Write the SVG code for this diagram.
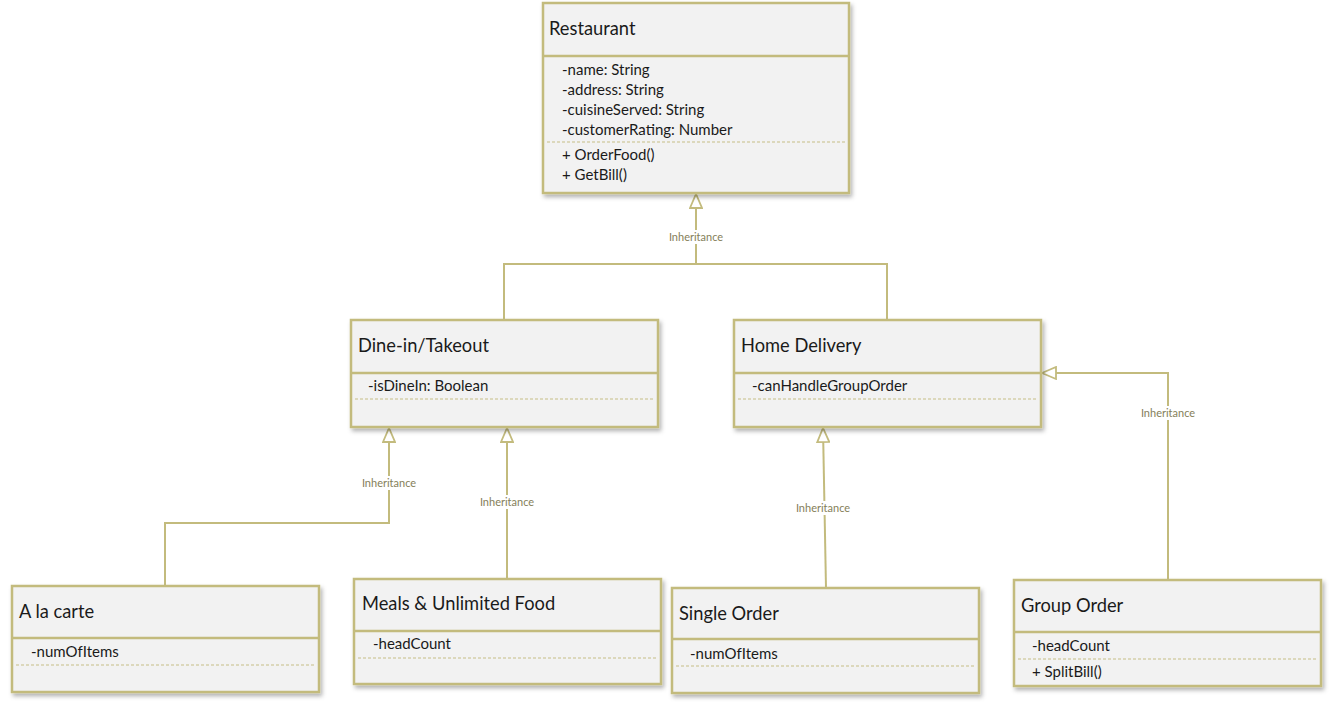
<svg xmlns="http://www.w3.org/2000/svg" width="1333" height="712" viewBox="0 0 1333 712">
<style>
.box{fill:#f2f2f2;stroke:#c3bb7d;stroke-width:2.5}
.sep{stroke:#c3bb7d;stroke-width:2.5}
.dash{stroke:#c6be86;stroke-width:1.2;stroke-dasharray:3 2}
.title{font-family:Lato,"Liberation Sans",sans-serif;font-size:18.3px;fill:#1a1a1a}
.attr{font-family:Lato,"Liberation Sans",sans-serif;font-size:15px;fill:#1a1a1a}
.lbl{font-family:Lato,"Liberation Sans",sans-serif;font-size:11px;fill:#85805a;text-anchor:middle}
.conn{fill:none;stroke:#c3bb7d;stroke-width:2}
.lblbg{fill:#ffffff}
</style>
<defs>
<filter id="sh" x="-5%" y="-5%" width="115%" height="120%">
<feDropShadow dx="2" dy="3" stdDeviation="2" flood-color="#000" flood-opacity="0.3"/>
</filter>
<marker id="tri" viewBox="0 0 16 14" refX="15" refY="7" markerWidth="16" markerHeight="14" markerUnits="userSpaceOnUse" orient="auto">
<path d="M1,1 L15,7 L1,13 Z" fill="#ffffff" stroke="#c3bb7d" stroke-width="1.8"/>
</marker>
</defs>
<rect width="1333" height="712" fill="#ffffff"/>

<g id="connectors">
<path class="conn" d="M504,320 V264 H887 V320"/>
<path class="conn" d="M696,264 V194" marker-end="url(#tri)"/>
<rect class="lblbg" x="664" y="230" width="64" height="14"/>
<text class="lbl" x="696" y="241">Inheritance</text>

<path class="conn" d="M165,586 V523 H389 V428" marker-end="url(#tri)"/>
<rect class="lblbg" x="357" y="476" width="64" height="14"/>
<text class="lbl" x="389" y="487">Inheritance</text>

<path class="conn" d="M507,579 V428" marker-end="url(#tri)"/>
<rect class="lblbg" x="475" y="495" width="64" height="14"/>
<text class="lbl" x="507" y="506">Inheritance</text>

<path class="conn" d="M826,588 L823,428" marker-end="url(#tri)"/>
<rect class="lblbg" x="792" y="501" width="64" height="14"/>
<text class="lbl" x="823" y="512">Inheritance</text>

<path class="conn" d="M1168,580 V373 H1042" marker-end="url(#tri)"/>
<rect class="lblbg" x="1136" y="406" width="64" height="14"/>
<text class="lbl" x="1168" y="417">Inheritance</text>
</g>

<g id="restaurant">
<rect class="box" x="543" y="3" width="306" height="190" filter="url(#sh)"/>
<line class="sep" x1="543" y1="56" x2="849" y2="56"/>
<text class="title" x="549" y="35">Restaurant</text>
<text class="attr" x="562" y="75">-name: String</text>
<text class="attr" x="562" y="95">-address: String</text>
<text class="attr" x="562" y="115">-cuisineServed: String</text>
<text class="attr" x="562" y="135">-customerRating: Number</text>
<line class="dash" x1="547" y1="142" x2="845" y2="142"/>
<text class="attr" x="562" y="160">+ OrderFood()</text>
<text class="attr" x="562" y="180">+ GetBill()</text>
</g>

<g id="dinein">
<rect class="box" x="351" y="320" width="307" height="107" filter="url(#sh)"/>
<line class="sep" x1="351" y1="373" x2="658" y2="373"/>
<text class="title" x="358" y="352">Dine-in/Takeout</text>
<text class="attr" x="368" y="391">-isDineIn: Boolean</text>
<line class="dash" x1="355" y1="399" x2="654" y2="399"/>
</g>

<g id="homedelivery">
<rect class="box" x="734" y="320" width="307" height="107" filter="url(#sh)"/>
<line class="sep" x1="734" y1="373" x2="1041" y2="373"/>
<text class="title" x="741" y="352">Home Delivery</text>
<text class="attr" x="752" y="391">-canHandleGroupOrder</text>
<line class="dash" x1="738" y1="399" x2="1037" y2="399"/>
</g>

<g id="alacarte">
<rect class="box" x="12" y="586" width="307" height="106" filter="url(#sh)"/>
<line class="sep" x1="12" y1="638" x2="319" y2="638"/>
<text class="title" x="19" y="618">A la carte</text>
<text class="attr" x="31" y="657">-numOfItems</text>
<line class="dash" x1="16" y1="665" x2="315" y2="665"/>
</g>

<g id="meals">
<rect class="box" x="354" y="579" width="307" height="105" filter="url(#sh)"/>
<line class="sep" x1="354" y1="631" x2="661" y2="631"/>
<text class="title" x="362" y="610">Meals &amp; Unlimited Food</text>
<text class="attr" x="373" y="649">-headCount</text>
<line class="dash" x1="358" y1="658" x2="657" y2="658"/>
</g>

<g id="singleorder">
<rect class="box" x="672" y="588" width="307" height="105" filter="url(#sh)"/>
<line class="sep" x1="672" y1="639" x2="979" y2="639"/>
<text class="title" x="679" y="620">Single Order</text>
<text class="attr" x="690" y="659">-numOfItems</text>
<line class="dash" x1="676" y1="666" x2="975" y2="666"/>
</g>

<g id="grouporder">
<rect class="box" x="1014" y="580" width="307" height="106" filter="url(#sh)"/>
<line class="sep" x1="1014" y1="632" x2="1321" y2="632"/>
<text class="title" x="1021" y="612">Group Order</text>
<text class="attr" x="1032" y="651">-headCount</text>
<line class="dash" x1="1018" y1="659" x2="1317" y2="659"/>
<text class="attr" x="1032" y="677">+ SplitBill()</text>
</g>
</svg>
